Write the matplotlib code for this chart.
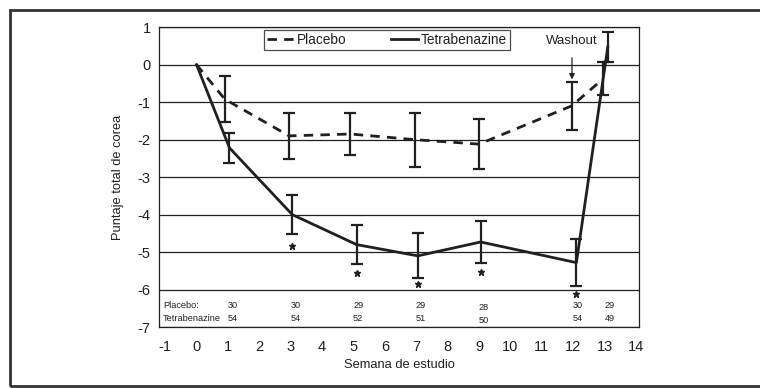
import matplotlib.pyplot as plt
from matplotlib.patches import Rectangle

plt.rcParams['font.family'] = ['Liberation Sans', 'DejaVu Sans']
plt.rcParams['axes.unicode_minus'] = False

ink = "#231f20"

# datos
placebo_x = [0, 0.9, 2.95, 4.9, 6.95, 9.0, 11.95, 12.95]
placebo_y = [0, -0.92, -1.9, -1.85, -2.0, -2.12, -1.1, -0.38]
placebo_err = [0.62, 0.62, 0.57, 0.72, 0.66, 0.65, 0.44]

tetra_x = [0, 1.05, 3.05, 5.1, 7.05, 9.05, 12.1, 13.1]
tetra_y = [0, -2.22, -4.0, -4.8, -5.1, -4.73, -5.28, 0.47]
tetra_err = [0.39, 0.52, 0.53, 0.6, 0.55, 0.63, 0.41]

star_x = [3.05, 5.1, 7.05, 9.05, 12.1]
star_y = [-4.84, -5.55, -5.86, -5.53, -6.13]

semanas = [1, 3, 5, 7, 9, 12, 13]
n_placebo = ["30", "30", "29", "29", "28", "30", "29"]
n_tetra = ["54", "54", "52", "51", "50", "54", "49"]

yticks = [1, 0, -1, -2, -3, -4, -5, -6, -7]
xticks = list(range(-1, 15))

fig = plt.figure(figsize=(7.6, 3.88), dpi=100)
ax = fig.add_axes([0.209, 0.157, 0.632, 0.773])

ax.set_xlim(-1.2, 14.1)
ax.set_ylim(-7, 1)
ax.set_yticks(yticks, [str(v) for v in yticks])
ax.set_xticks(xticks, [str(v) for v in xticks])
ax.tick_params(axis='y', length=0, labelsize=10.5, colors=ink, pad=6)
ax.tick_params(axis='x', length=0, labelsize=10.5, colors=ink, pad=9)
ax.grid(axis='y', color=ink, lw=0.9)
ax.set_axisbelow(True)
for s in ax.spines.values():
    s.set_color(ink)
    s.set_linewidth(0.9)

ax.plot(placebo_x, placebo_y, color=ink, lw=2.0, ls=(0, (3.4, 2.6)), label="Placebo")
ax.plot(tetra_x, tetra_y, color=ink, lw=2.0, label="Tetrabenazine")
ax.errorbar(placebo_x[1:], placebo_y[1:], yerr=placebo_err, fmt='none',
            ecolor=ink, elinewidth=1.6, capsize=4, capthick=1.6)
ax.errorbar(tetra_x[1:], tetra_y[1:], yerr=tetra_err, fmt='none',
            ecolor=ink, elinewidth=1.6, capsize=4, capthick=1.6)
ax.plot(star_x, star_y, ls='none', marker='*', ms=5, color=ink)

# tabla de n
row_p, row_t = -6.42, -6.77
ax.text(-1.07, row_p, "Placebo:", fontsize=6.6, color=ink, va='center')
ax.text(-1.07, row_t, "Tetrabenazine", fontsize=6.6, color=ink, va='center')
for w, a, b in zip(semanas, n_placebo, n_tetra):
    dy = -0.05 if w == 9 else 0
    ax.text(w + 0.15, row_p + dy, a, fontsize=6.6, color=ink, ha='center', va='center')
    ax.text(w + 0.15, row_t + dy, b, fontsize=6.6, color=ink, ha='center', va='center')

ax.annotate("Washout", xy=(11.96, -0.47), xytext=(11.96, 0.64),
            ha='center', va='center', fontsize=9.5, color=ink,
            arrowprops=dict(arrowstyle='-|>', color=ink, lw=0.9,
                            shrinkA=6, mutation_scale=8))

leg = ax.legend(loc='upper left', bbox_to_anchor=(0.219, 0.99), ncol=2,
                fontsize=9.8, frameon=True, fancybox=False, edgecolor=ink,
                borderpad=0.2, handlelength=2.0, columnspacing=3.3,
                handletextpad=0.2, borderaxespad=0)
leg.get_frame().set_linewidth(0.9)
for t in leg.get_texts():
    t.set_color(ink)

ax.set_ylabel("Puntaje total de corea", fontsize=9.3, color=ink, labelpad=10)
ax.set_xlabel("Semana de estudio", fontsize=9.3, color=ink, labelpad=4)

fig.patches.append(Rectangle((10 / 760, 2 / 388), 1.0, 376 / 388,
                             transform=fig.transFigure, fill=False,
                             edgecolor="#333333", lw=2.0))

plt.savefig("out.png", dpi=100)
